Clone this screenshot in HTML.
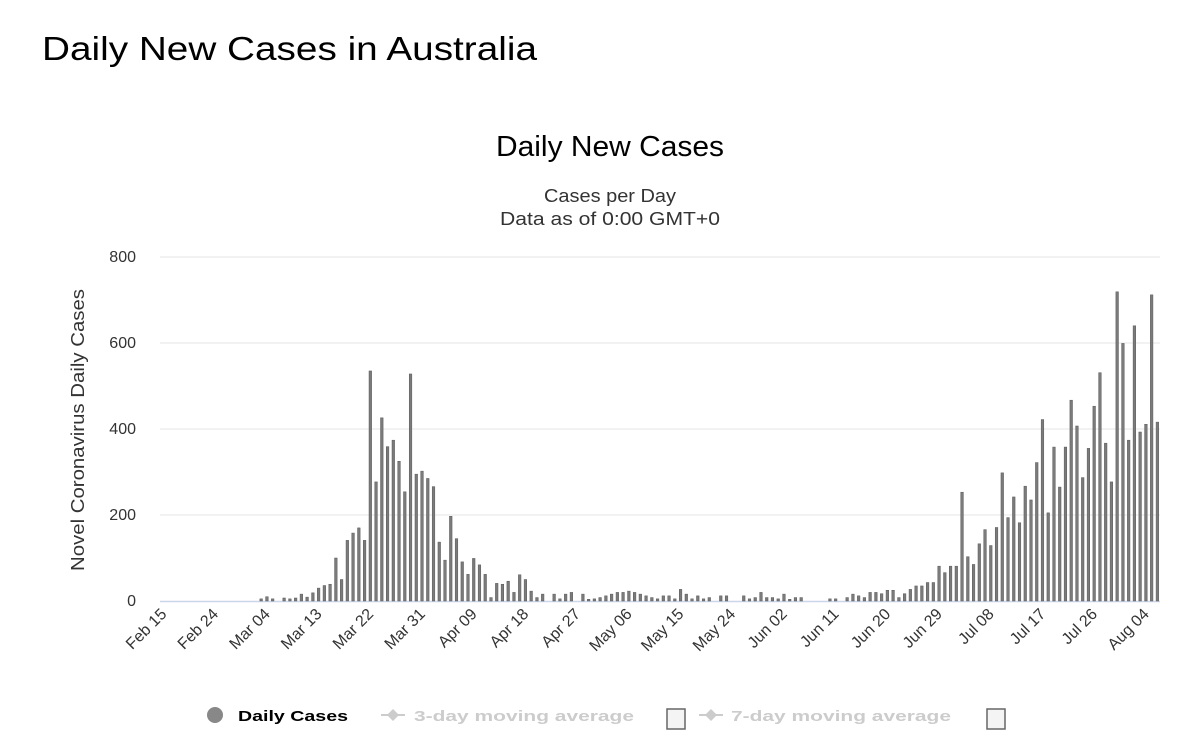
<!DOCTYPE html>
<html><head><meta charset="utf-8"><style>
html,body{margin:0;padding:0;background:#fff;}
svg{display:block;}
text{font-family:"Liberation Sans","DejaVu Sans",sans-serif;}
</style></head><body>
<svg id="s" width="1200" height="743" xmlns="http://www.w3.org/2000/svg">
<text x="42" y="60" font-size="33" fill="#000" textLength="495" lengthAdjust="spacingAndGlyphs">Daily New Cases in Australia</text>
<text x="610" y="156" font-size="29" text-anchor="middle" fill="#000" textLength="228" lengthAdjust="spacingAndGlyphs">Daily New Cases</text>
<text x="610" y="202" font-size="18" text-anchor="middle" fill="#333" textLength="132" lengthAdjust="spacingAndGlyphs">Cases per Day</text>
<text x="610" y="225" font-size="18" text-anchor="middle" fill="#333" textLength="220" lengthAdjust="spacingAndGlyphs">Data as of 0:00 GMT+0</text>
<text transform="translate(84,430) rotate(-90)" font-size="18" text-anchor="middle" fill="#333" textLength="282" lengthAdjust="spacingAndGlyphs">Novel Coronavirus Daily Cases</text>
<g id="grid"></g>
<g id="bars" fill="#7b7b7b" stroke="#5a5a5a" stroke-width="0.5"></g>
<g id="xl" font-size="16" fill="#333"></g>
<g font-size="15" font-weight="bold">
<circle cx="215" cy="715" r="8" fill="#888"/>
<text x="238" y="721" fill="#000" textLength="110" lengthAdjust="spacingAndGlyphs">Daily Cases</text>
<line x1="381" y1="715" x2="405" y2="715" stroke="#ccc" stroke-width="2"/>
<path d="M393 709 L399 715 L393 721 L387 715Z" fill="#ccc"/>
<text x="414" y="721" fill="#ccc" textLength="220" lengthAdjust="spacingAndGlyphs">3-day moving average</text>
<rect x="667" y="709" width="18" height="20" fill="#f4f4f4" stroke="#666" stroke-width="1.5"/>
<line x1="699" y1="715" x2="723" y2="715" stroke="#ccc" stroke-width="2"/>
<path d="M711 709 L717 715 L711 721 L705 715Z" fill="#ccc"/>
<text x="731" y="721" fill="#ccc" textLength="220" lengthAdjust="spacingAndGlyphs">7-day moving average</text>
<rect x="987" y="709" width="18" height="20" fill="#f4f4f4" stroke="#666" stroke-width="1.5"/>
</g>
</svg>
<script>
var v=new Array(174).fill(0);
var a=[[17,5],[18,10],[19,5],[21,7],[22,5],[23,7],[24,16],[25,9],[26,19],[27,30],[28,36],[29,39],[30,100],[31,50],[32,141],[33,158],[34,170],[35,141],[36,535],[37,277],[38,426],[39,359],[40,374],[41,325],[42,254],[43,528],[44,295],[45,302],[46,285],[47,266],[48,137],[49,95],[50,197],[51,145],[52,91],[53,62],[54,99],[55,84],[56,62],[57,8],[58,41],[59,39],[60,46],[61,20],[62,61],[63,50],[64,23],[65,8],[66,16],[68,16],[69,5],[70,16],[71,20],[73,16],[74,4],[75,5],[76,8],[77,12],[78,16],[79,20],[80,20],[81,23],[82,20],[83,16],[84,12],[85,8],[86,5],[87,12],[88,12],[89,5],[90,27],[91,16],[92,5],[93,12],[94,5],[95,8],[97,12],[98,12],[101,12],[102,5],[103,8],[104,20],[105,8],[106,8],[107,5],[108,16],[109,4],[110,8],[111,8],[116,5],[117,5],[119,8],[120,16],[121,12],[122,8],[123,20],[124,20],[125,17],[126,25],[127,25],[128,8],[129,17],[130,27],[131,35],[132,35],[133,43],[134,43],[135,81],[136,66],[137,81],[138,81],[139,253],[140,103],[141,85],[142,133],[143,166],[144,129],[145,171],[146,298],[147,194],[148,242],[149,182],[150,267],[151,235],[152,322],[153,422],[154,205],[155,358],[156,265],[157,358],[158,467],[159,407],[160,287],[161,355],[162,453],[163,531],[164,367],[165,277],[166,719],[167,599],[168,374],[169,640],[170,393],[171,411],[172,712],[173,416]];
a.forEach(function(p){v[p[0]]=p[1];});
var ns="http://www.w3.org/2000/svg";
function el(t,at,par,txt){var e=document.createElementNS(ns,t);for(var k in at)e.setAttribute(k,at[k]);if(txt)e.textContent=txt;document.getElementById(par).appendChild(e);return e;}
var y0=601,sc=0.43;
for(var i=0;i<=4;i++){var y=y0-i*200*sc;
 if(i>0)el("line",{x1:160,x2:1160,y1:y,y2:y,stroke:"#e6e6e6","stroke-width":1},"grid");
 el("text",{x:136,y:y+5,"font-size":16,"text-anchor":"end",fill:"#333"},"grid",String(i*200));}
el("line",{x1:160,x2:1160,y1:y0+0.5,y2:y0+0.5,stroke:"#ccd6eb","stroke-width":1.5},"grid");
function X(d){return 163.5+5.745*d;}
for(var d=0;d<174;d++){if(v[d]>0){var h=v[d]*sc;el("rect",{x:X(d)-1.3,y:y0-h,width:2.6,height:h},"bars");}}
var lab=["Feb 15","Feb 24","Mar 04","Mar 13","Mar 22","Mar 31","Apr 09","Apr 18","Apr 27","May 06","May 15","May 24","Jun 02","Jun 11","Jun 20","Jun 29","Jul 08","Jul 17","Jul 26","Aug 04"];
lab.forEach(function(t,i){var x=X(i*9)+4;el("text",{transform:"translate("+x+",615) rotate(-45)","text-anchor":"end"},"xl",t);});
</script>
</body></html>
